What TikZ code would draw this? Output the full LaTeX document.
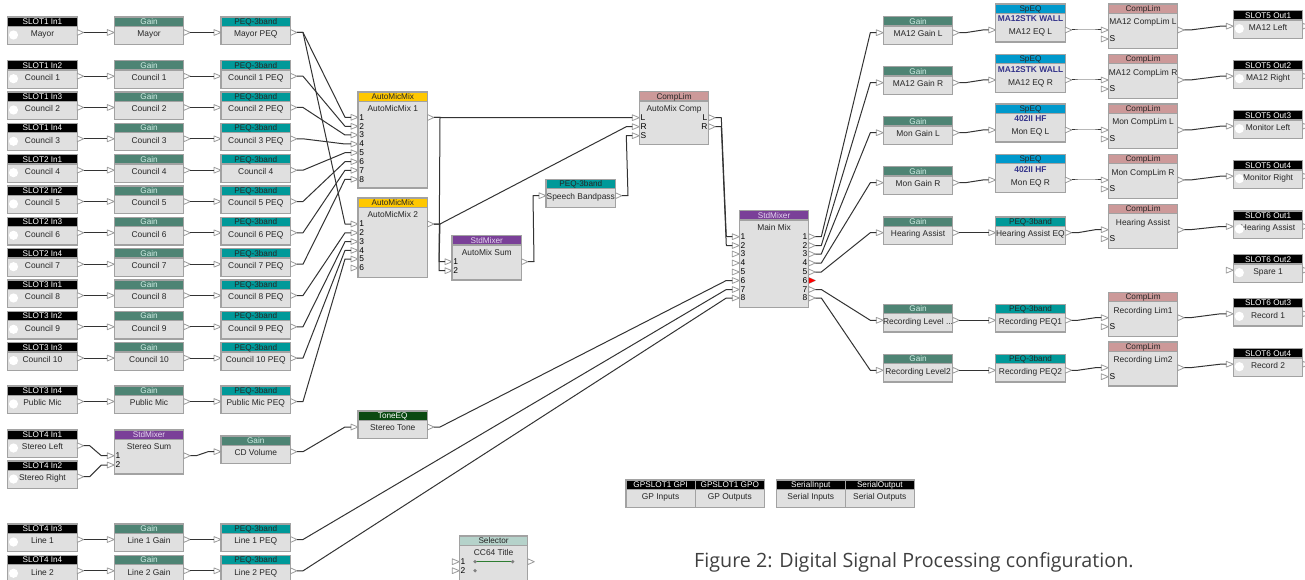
\documentclass[tikz,border=0pt]{standalone}
\usepackage{fontspec}
\setmainfont{Liberation Sans}
\newfontfamily\capfont{Open Sans}
\usetikzlibrary{calc}
\definecolor{bodyc}{HTML}{E0E0E0}
\definecolor{edgec}{HTML}{A2A2A2}
\definecolor{wirec}{HTML}{333333}
\definecolor{portc}{HTML}{9A9A9A}
\definecolor{txtc}{HTML}{262626}
\tikzset{
  x=1pt,y=-1pt,
  body/.style={draw=edgec,line width=1.2pt,fill=bodyc,anchor=north west,inner sep=0,outer sep=0},
  head/.style={draw=edgec,line width=1.2pt,anchor=north west,inner sep=0,outer sep=0,minimum height=9.3pt,
    font=\fontsize{8.2}{9}\selectfont,text height=6.6pt,text depth=.6pt},
  lab/.style={inner sep=0,font=\fontsize{8.4}{9}\selectfont,text=txtc,text height=6pt,text depth=.4pt},
  plab/.style={inner sep=0,font=\fontsize{8.4}{9}\selectfont,text=black,text height=6pt,text depth=.4pt},
  wire/.style={draw=wirec,line width=1pt,line join=round},
  porttri/.style={draw=portc,fill=white,line width=.8pt,line join=round},
  tslot/.style={fill=black,text=white},
  tgain/.style={fill=gainc,text=gaint},
  tpeq/.style={fill=peqc,text=txtc},
  tamm/.style={fill=ammc,text=txtc},
  tmix/.style={fill=mixc,text=mixt},
  tcomp/.style={fill=compc,text=txtc},
  tspeq/.style={fill=speqc,text=txtc},
  ttone/.style={fill=tonec,text=white},
  tsel/.style={fill=selc,text=txtc},
}
\definecolor{gainc}{HTML}{4E8474}
\definecolor{gaint}{HTML}{CFEDE4}
\definecolor{peqc}{HTML}{009999}
\definecolor{ammc}{HTML}{FFC800}
\definecolor{mixc}{HTML}{7A4098}
\definecolor{mixt}{HTML}{E6D6F0}
\definecolor{compc}{HTML}{CC9999}
\definecolor{speqc}{HTML}{0099CC}
\definecolor{tonec}{HTML}{0B4A12}
\definecolor{selc}{HTML}{B5D2CA}
\definecolor{speqt}{HTML}{33338A}
\definecolor{selg}{HTML}{2E7D32}
\newcommand\rlev{Recording Level ...}
% block: [label offset] id x y w h style title label
\newcommand\blk[9][17]{%
  \node[body,minimum width=#5pt,minimum height=#6pt] (#2) at (#3,#4) {};
  \node[head,#7,minimum width=#5pt] (#2h) at (#3,#4) {#8};
  \node[lab] (#2l) at ($(#2.north)+(0,#1)$) {#9};
}
% ports: [label] name x-of-edge y
\newcommand\ipt[4][]{%
  \coordinate (#2) at (#3-7,#4);
  \path[porttri] (#3-7,#4-2.9) -- (#3,#4) -- (#3-7,#4+2.9) -- cycle;
  \node[plab,anchor=west] (#2l) at (#3+1.2,#4) {#1};
}
\newcommand\opt[4][]{%
  \coordinate (#2) at (#3+6.5,#4);
  \path[porttri] (#3,#4-2.9) -- (#3+6.5,#4) -- (#3,#4+2.9) -- cycle;
  \node[plab,anchor=east] (#2l) at (#3-1.2,#4) {#1};
}
% connector with 6-unit stubs
\newcommand\cn[2]{\draw[wire] (#1) -- ++(6,0) -- ($(#2)+(-6,0)$) -- (#2);}
% slot with white circle
\newcommand\slotb[6]{%  id x y title label circle-x
  \blk{#1}{#2}{#3}{69.5}{27.6}{tslot}{#4}{#5}
  \fill[white] (#2+#6,#3+18) circle (4.6);
}
\begin{document}
\begin{tikzpicture}
\useasboundingbox (0,0) rectangle (1305,580);
\clip (0,0) rectangle (1305,580);
\fill[white] (0,0) rectangle (1305,580);

% left chains
\foreach \k/\yy/\ss/\aa/\bb/\cc in {
  may/17/SLOT1 In1/Mayor/Mayor/Mayor PEQ,
  c1/60.7/SLOT1 In2/Council 1/Council 1/Council 1 PEQ,
  c2/92/SLOT1 In3/Council 2/Council 2/Council 2 PEQ,
  c3/123.3/SLOT1 In4/Council 3/Council 3/Council 3 PEQ,
  c4/154.7/SLOT2 In1/Council 4/Council 4/Council 4,
  c5/186/SLOT2 In2/Council 5/Council 5/Council 5 PEQ,
  c6/217.3/SLOT2 In3/Council 6/Council 6/Council 6 PEQ,
  c7/248.7/SLOT2 In4/Council 7/Council 7/Council 7 PEQ,
  c8/280/SLOT3 In1/Council 8/Council 8/Council 8 PEQ,
  c9/311.3/SLOT3 In2/Council 9/Council 9/Council 9 PEQ,
  c10/342.6/SLOT3 In3/Council 10/Council 10/Council 10 PEQ,
  pub/386/SLOT3 In4/Public Mic/Public Mic/Public Mic PEQ,
  la/524/SLOT4 In3/Line 1/Line 1 Gain/Line 1 PEQ,
  lb/555.3/SLOT4 In4/Line 2/Line 2 Gain/Line 2 PEQ}{
  \pgfmathsetmacro\py{\yy+15.5}
  \slotb{\k s}{7.7}{\yy}{\ss}{\aa}{5.8}
  \opt{\k so}{77.2}{\py}
  \blk{\k g}{114.3}{\yy}{69.5}{27.6}{tgain}{Gain}{\bb}
  \ipt{\k gi}{114.3}{\py}
  \opt{\k go}{183.8}{\py}
  \blk{\k p}{221}{\yy}{69.5}{27.6}{tpeq}{PEQ-3band}{\cc}
  \ipt{\k pi}{221}{\py}
  \opt{\k po}{290.5}{\py}
  \cn{\k so}{\k gi}
  \cn{\k go}{\k pi}
}

% stereo inputs
\slotb{sl}{7.7}{430}{SLOT4 In1}{Stereo Left}{5.8}
\opt{slo}{77.2}{445.7}
\slotb{sr}{7.7}{461}{SLOT4 In2}{Stereo Right}{5.8}
\opt{sro}{77.2}{476.7}
\blk{ssum}{114.3}{430}{69.5}{44}{tmix}{StdMixer}{Stereo Sum}
\ipt[1]{ssum1}{114.3}{455.7}
\ipt[2]{ssum2}{114.3}{465}
\opt{ssumo}{183.8}{455.7}
\blk{cdv}{221}{436}{69.5}{27.6}{tgain}{Gain}{CD Volume}
\ipt{cdvi}{221}{451.7}
\opt{cdvo}{290.5}{451.7}
\blk{tone}{358}{411}{69.5}{27.6}{ttone}{ToneEQ}{Stereo Tone}
\ipt{tonei}{358}{427}
\opt{toneo}{427.5}{427}

% AutoMicMix
\blk{ama}{358}{92}{69.5}{96}{tamm}{AutoMicMix}{AutoMicMix 1}
\foreach \n/\yy in {1/117.3,2/126.3,3/135,4/144,5/152.7,6/161.7,7/170.3,8/179.3}{\ipt[\n]{ama\n}{358}{\yy}}
\opt{amao}{427.5}{117.5}
\blk{amb}{358}{198}{69.5}{79.6}{tamm}{AutoMicMix}{AutoMicMix 2}
\foreach \n/\yy in {1/224,2/232.8,3/241.6,4/250.4,5/259,6/268}{\ipt[\n]{amb\n}{358}{\yy}}
\opt{ambo}{427.5}{224}

% AutoMix sum, bandpass, comp
\blk{asum}{452}{235.7}{69.5}{44.3}{tmix}{StdMixer}{AutoMix Sum}
\ipt[1]{asum1}{452}{261.7}
\ipt[2]{asum2}{452}{270.7}
\opt{asumo}{521.5}{261.7}
\blk{band}{546}{179.3}{69.5}{28}{tpeq}{PEQ-3band}{Speech Bandpass}
\ipt{bandi}{546}{195.7}
\opt{bando}{615.5}{195.7}
\blk{acomp}{639.3}{91.7}{69.5}{53}{tcomp}{CompLim}{AutoMix Comp}
\ipt[L]{acompl}{639.3}{117.7}
\ipt[R]{acompr}{639.3}{126.7}
\ipt[S]{acomps}{639.3}{135.7}
\opt[L]{acompol}{708.8}{117.7}
\opt[R]{acompor}{708.8}{126.7}

% Main mix
\blk{mm}{739.3}{210.7}{69.5}{96.6}{tmix}{StdMixer}{Main Mix}
\foreach \n/\yy in {1/236.7,2/245.5,3/254,4/263,5/272,6/280.5,7/289.5,8/298}{
  \ipt[\n]{mmi\n}{739.3}{\yy}
  \opt[\n]{mmo\n}{808.8}{\yy}
}
\fill[red] (808.8,277.6) -- (815.3,280.5) -- (808.8,283.4) -- cycle;

% Right column rows with SpEQ
\foreach \k/\gy/\gp/\ey/\ep/\cy/\oy/\aa/\bb/\bx/\cc/\dd/\ss in {
  ra/16.7/32.7/4/30/4/10.7/MA12 Gain L/MA12 EQ L/MA12STK WALL/MA12 CompLim L/MA12 Left/SLOT5 Out1,
  rb/66.7/82.7/54.3/80/54.3/60.7/MA12 Gain R/MA12 EQ R/MA12STK WALL/MA12 CompLim R/MA12 Right/SLOT5 Out2,
  rc/116.7/132.7/104/130/104/110.7/Mon Gain L/Mon EQ L/402II HF/Mon CompLim L/Monitor Left/SLOT5 Out3,
  rd/166.7/182.7/154.3/180/154.3/160.7/Mon Gain R/Mon EQ R/402II HF/Mon CompLim R/Monitor Right/SLOT5 Out4}{
  \pgfmathsetmacro\sy{\ep+9}
  \pgfmathsetmacro\op{\oy+15.5}
  \blk{\k g}{883.3}{\gy}{69.5}{27.6}{tgain}{Gain}{\aa}
  \ipt{\k gi}{883.3}{\gp}
  \opt{\k go}{952.8}{\gp}
  \blk[28]{\k e}{995.7}{\ey}{69.5}{38}{tspeq}{SpEQ}{\bb}
  \node[lab,text=speqt,font=\fontsize{8.4}{9}\bfseries\selectfont] (\k ex) at ($(\k e.north)+(0,15)$) {\bx};
  \ipt{\k ei}{995.7}{\ep}
  \opt{\k eo}{1065.2}{\ep}
  \blk[18]{\k c}{1108.3}{\cy}{69.5}{44.3}{tcomp}{CompLim}{\cc}
  \ipt{\k ci}{1108.3}{\ep}
  \ipt[S]{\k cs}{1108.3}{\sy}
  \opt{\k co}{1177.8}{\ep}
  \slotb{\k o}{1233.3}{\oy}{\ss}{\dd}{6}
  \ipt{\k oi}{1233.3}{\op}
  \opt{\k oo}{1302.8}{\op}
  \cn{\k go}{\k ei}
  \cn{\k eo}{\k ci}
  \cn{\k co}{\k oi}
}
% Right column rows with PEQ
\foreach \k/\gy/\gp/\cy/\cp/\oy/\aa/\bb/\cc/\dd/\ss in {
  re/217/232.7/204.3/229.7/211/Hearing Assist/Hearing Assist EQ/Hearing Assist/Hearing Assist/SLOT6 Out1,
  rf/304.3/320.3/292.3/317.7/298.3/\rlev/Recording PEQ1/Recording Lim1/Record 1/SLOT6 Out3,
  rg/354.3/370.3/342/367.7/348.7/Recording Level2/Recording PEQ2/Recording Lim2/Record 2/SLOT6 Out4}{
  \pgfmathsetmacro\sy{\cp+9}
  \pgfmathsetmacro\op{\oy+15.5}
  \blk{\k g}{883.3}{\gy}{69.5}{27.6}{tgain}{Gain}{\aa}
  \ipt{\k gi}{883.3}{\gp}
  \opt{\k go}{952.8}{\gp}
  \blk{\k e}{995.7}{\gy}{69.5}{27.6}{tpeq}{PEQ-3band}{\bb}
  \ipt{\k ei}{995.7}{\gp}
  \opt{\k eo}{1065.2}{\gp}
  \blk[18]{\k c}{1108.3}{\cy}{69.5}{44}{tcomp}{CompLim}{\cc}
  \ipt{\k ci}{1108.3}{\cp}
  \ipt[S]{\k cs}{1108.3}{\sy}
  \opt{\k co}{1177.8}{\cp}
  \slotb{\k o}{1233.3}{\oy}{\ss}{\dd}{6}
  \ipt{\k oi}{1233.3}{\op}
  \opt{\k oo}{1302.8}{\op}
  \cn{\k go}{\k ei}
  \cn{\k eo}{\k ci}
  \cn{\k co}{\k oi}
}
% Spare
\slotb{spare}{1233.3}{254.7}{SLOT6 Out2}{Spare 1}{6}
\ipt{sparei}{1233.3}{270.2}
\opt{spareo}{1302.8}{270.2}

% GP and Serial
\blk{gpi}{626}{480}{69.2}{27.3}{tslot}{GPSLOT1 GPI}{GP Inputs}
\blk{gpo}{695.2}{480}{69.2}{27.3}{tslot}{GPSLOT1 GPO}{GP Outputs}
\blk{sei}{776.3}{480}{69}{27.3}{tslot}{SerialInput}{Serial Inputs}
\blk{seo}{845.3}{480}{69}{27.3}{tslot}{SerialOutput}{Serial Outputs}

% Selector
\blk{sel}{459.3}{536}{68.5}{60}{tsel}{Selector}{CC64 Title}
\ipt[1]{sel1}{459.3}{561.7}
\ipt[2]{sel2}{459.3}{570.7}
\opt{selo}{527.8}{561.7}
\draw[selg,line width=1pt] (475,561.7) -- (512.7,561.7);
\fill[gray] (475,561.7) circle (1.8) (512.7,561.7) circle (1.8) (475,570.7) circle (1.8);

% connectors
\cn{maypo}{ama1}
\cn{maypo}{amb1}
\cn{c1po}{ama2}
\cn{c2po}{ama3}
\cn{c3po}{ama4}
\cn{c4po}{ama5}
\cn{c5po}{ama6}
\cn{c6po}{ama7}
\cn{c7po}{ama8}
\cn{c8po}{amb2}
\cn{c9po}{amb3}
\cn{c10po}{amb4}
\cn{pubpo}{amb5}
\cn{slo}{ssum1}
\cn{sro}{ssum2}
\cn{ssumo}{cdvi}
\cn{cdvo}{tonei}
\cn{amao}{acompl}
\cn{ambo}{acompr}
\cn{amao}{asum2}
\cn{ambo}{asum1}
\cn{asumo}{bandi}
\cn{bando}{acomps}
\cn{acompol}{mmi1}
\cn{acompor}{mmi2}
\cn{toneo}{mmi6}
\cn{lapo}{mmi7}
\cn{lbpo}{mmi8}
\cn{mmo1}{ragi}
\cn{mmo2}{rbgi}
\cn{mmo3}{rcgi}
\cn{mmo4}{rdgi}
\cn{mmo5}{regi}
\cn{mmo7}{rfgi}
\cn{mmo8}{rggi}

% caption
\node[anchor=base west,inner sep=0,text=black!75,font=\capfont\fontsize{19.7}{21}\selectfont] (cap) at (694,567) {Figure 2: Digital Signal Processing configuration.};
\end{tikzpicture}
\end{document}
